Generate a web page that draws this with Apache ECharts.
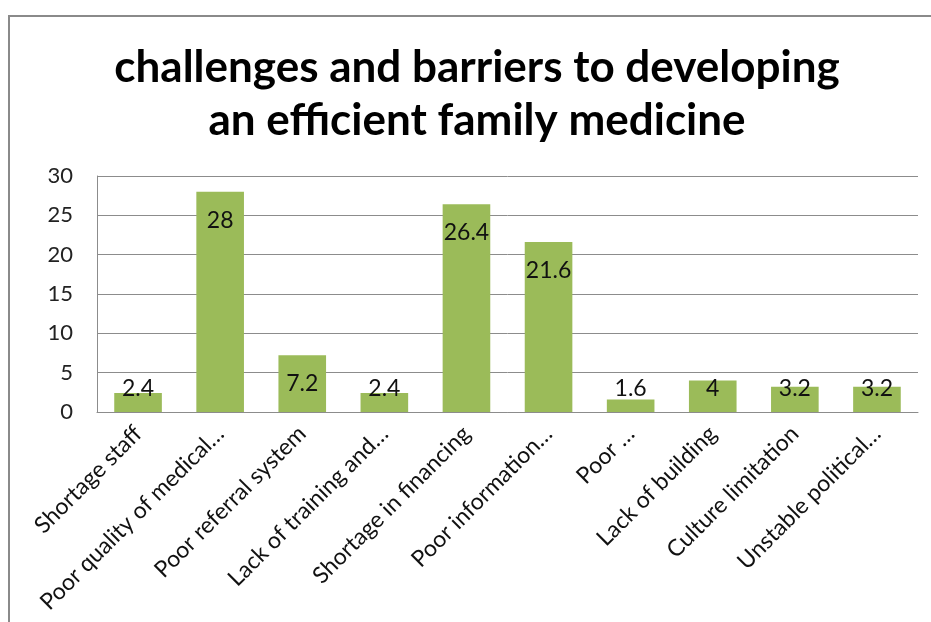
<!DOCTYPE html>
<html>
<head>
<meta charset="utf-8">
<title>challenges and barriers to developing an efficient family medicine</title>
<script src="https://cdn.jsdelivr.net/npm/echarts@6/dist/echarts.min.js"></script>
<style>
  html, body { margin: 0; padding: 0; background: #fff; }
  #chart { width: 931px; height: 622px; }
</style>
</head>
<body>
<div id="chart"></div>
<script>
// Barrier categories (as shown on the axis) and their percentages
const categories = [
  'Shortage staff',
  'Poor quality of medical…',
  'Poor referral system',
  'Lack of training and…',
  'Shortage in financing',
  'Poor information…',
  'Poor …',
  'Lack of building',
  'Culture limitation',
  'Unstable political…'
];
const values = [2.4, 28, 7.2, 2.4, 26.4, 21.6, 1.6, 4, 3.2, 3.2];
const yTicks = [0, 5, 10, 15, 20, 25, 30];

const FONT = 'Lato, "Open Sans", sans-serif';
const GRID = { left: 97, right: 13, top: 176, bottom: 210, outerBoundsMode: 'none', containLabel: false };
const plotHeight = 622 - GRID.top - GRID.bottom;
const yMax = yTicks[yTicks.length - 1];

// Labels sit inside the bar end; short bars keep the label just above the baseline
function labelFor(v) {
  const barPx = v / yMax * plotHeight;
  if (barPx > 56) {
    return { position: 'insideTop', distance: 17 };
  }
  return { position: 'insideBottom', distance: 12 };
}

const chart = echarts.init(document.getElementById('chart'), null, { renderer: 'canvas' });

chart.setOption({
  backgroundColor: '#ffffff',
  animation: false,
  title: {
    text: 'challenges and barriers to developing\nan efficient family medicine',
    left: 472,
    top: 36,
    textAlign: 'center',
    textStyle: {
      fontFamily: FONT,
      fontWeight: 'bold',
      fontSize: 44,
      lineHeight: 53,
      color: '#000'
    }
  },
  graphic: [{
    type: 'rect',
    silent: true,
    shape: { x: 9, y: 16, width: 1000, height: 1000 },
    style: { fill: 'none', stroke: '#8a8a8a', lineWidth: 2 }
  }],
  grid: GRID,
  xAxis: {
    type: 'category',
    data: categories,
    axisLine: { show: true, lineStyle: { color: '#8c8c8c', width: 1 } },
    axisTick: { show: false },
    axisLabel: {
      interval: 0,
      rotate: 45,
      margin: 18,
      fontFamily: FONT,
      fontSize: 23,
      color: '#111'
    }
  },
  yAxis: {
    type: 'value',
    min: yTicks[0],
    max: yMax,
    interval: yTicks[1] - yTicks[0],
    axisLine: { show: true, lineStyle: { color: '#8c8c8c', width: 1 } },
    axisTick: { show: false },
    splitLine: { show: true, lineStyle: { color: '#8c8c8c', width: 1 } },
    axisLabel: {
      margin: 24,
      fontFamily: FONT,
      fontSize: 22,
      color: '#222'
    }
  },
  series: [{
    type: 'bar',
    barWidth: '58%',
    itemStyle: { color: '#9bbb59' },
    data: values.map(v => ({
      value: v,
      label: Object.assign({
        show: true,
        fontFamily: FONT,
        fontSize: 23,
        color: '#111',
        formatter: '{c}'
      }, labelFor(v))
    }))
  }]
});
</script>
</body>
</html>
